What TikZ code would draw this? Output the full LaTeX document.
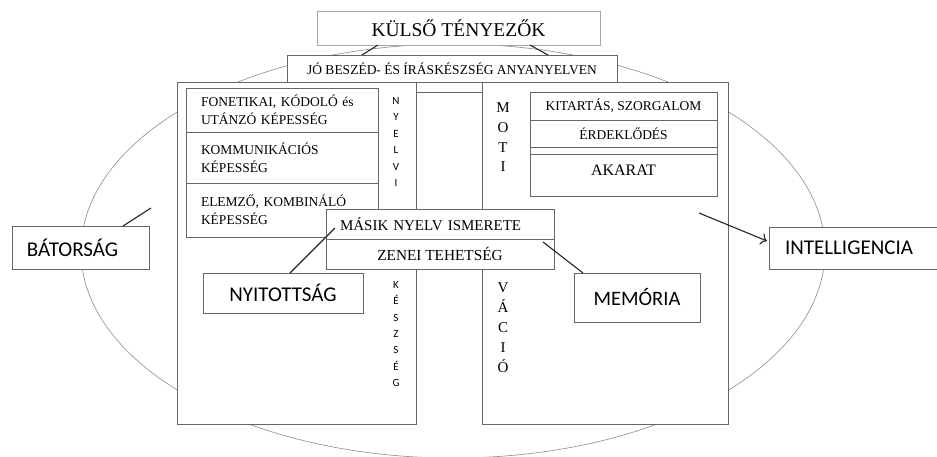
\documentclass[tikz,border=0pt]{standalone}
\usepackage{fontspec}
\setmainfont{Liberation Serif}
\newfontfamily\carl{Carlito}
\usetikzlibrary{calc,arrows.meta}
\begin{document}
\begin{tikzpicture}[x=1pt,y=-1pt,
  box/.style={draw=black!60, fill=white, line width=0.8pt, inner sep=0pt, outer sep=0pt, anchor=center},
  lbox/.style={box, align=left, text width=162pt, inner xsep=15pt},
  conn/.style={draw=black!85, line width=1.1pt},
  vtext/.style={align=center, inner sep=0pt},
  fs/.style={font=\fontsize{#1}{#1}\selectfont},
]
\useasboundingbox (0,0) rectangle (937,456);
\fill[white] (0,0) rectangle (937,456);
% ellipse
\draw[black!45, line width=0.6pt] (453,251) ellipse [x radius=372, y radius=207];
% big boxes
\node[box, minimum width=239pt, minimum height=342pt] (lbig) at (296.5,253) {};
\node[box, minimum width=246pt, minimum height=342pt] (rbig) at (605,253) {};
\draw[black!60, line width=0.8pt] (lbig.east |- 0,92) -- (rbig.west |- 0,92);
% top
\node[box, draw=black!35, minimum width=283pt, minimum height=34pt, fs=19.5] (kulso) at (458.5,28) {KÜLSŐ TÉNYEZŐK};
\node[box, minimum width=330pt, minimum height=27pt, fs=13.5] (jo) at (452,68.5) {JÓ BESZÉD- ÉS ÍRÁSKÉSZSÉG ANYANYELVEN};
\draw[conn] (378,0 |- kulso.south) -- (362,0 |- jo.north);
\draw[conn] (530,0 |- kulso.south) -- (548,0 |- jo.north);
% left inner
\node[lbox, minimum height=44pt, font=\fontsize{13.5}{18}\selectfont] (fon) at (282,110) {FONETIKAI, KÓDOLÓ és\\UTÁNZÓ KÉPESSÉG};
\node[lbox, minimum height=51pt, font=\fontsize{13.5}{18}\selectfont] (kom) at (282,157.5) {KOMMUNIKÁCIÓS\\KÉPESSÉG};
\node[lbox, minimum height=54pt, font=\fontsize{13.5}{18}\selectfont] (elem) at (282,210) {ELEMZŐ, KOMBINÁLÓ\\KÉPESSÉG};
\node[vtext, font=\carl\fontsize{11}{16.4}\selectfont] (nyelvi) at (396,142) {N\\Y\\E\\L\\V\\I};
\node[vtext, font=\carl\fontsize{11}{16.3}\selectfont] (keszseg) at (396,334) {K\\É\\S\\Z\\S\\É\\G};
% right inner
\node[box, minimum width=187pt, minimum height=28pt, fs=13.5] (kit) at (623.5,106) {KITARTÁS, SZORGALOM};
\node[box, minimum width=187pt, minimum height=27pt, fs=13.5] (erd) at (623.5,133.5) {ÉRDEKLŐDÉS};
\node[box, minimum width=187pt, minimum height=7pt] (strip) at (623.5,150.5) {};
\node[box, minimum width=187pt, minimum height=42pt] (akar) at (623.5,175) {};
\node[fs=16, inner sep=0pt] (akartxt) at (623.5,170) {AKARAT};
\node[vtext, font=\fontsize{15}{19.7}\selectfont] (moti) at (503,137.5) {M\\O\\T\\I};
\node[vtext, font=\fontsize{15}{20}\selectfont] (vacio) at (503,327.5) {V\\Á\\C\\I\\Ó};
% middle
\node[box, minimum width=228pt, minimum height=30pt, fs=15, align=left, text width=200pt, inner xsep=14pt] (masik) at (440,224) {MÁSIK NYELV ISMERETE};
\node[box, minimum width=228pt, minimum height=30pt, fs=15.3] (zenei) at (440,254) {ZENEI TEHETSÉG};
% side boxes
\node[box, minimum width=160pt, minimum height=40pt, font=\carl\fontsize{21}{21}\selectfont] (nyit) at (283,293) {NYITOTTSÁG};
\node[box, minimum width=126pt, minimum height=49pt, font=\carl\fontsize{20.5}{20.5}\selectfont] (memo) at (637,297.5) {MEMÓRIA};
\node[box, minimum width=137pt, minimum height=43pt, font=\carl\fontsize{21}{21}\selectfont, text width=117pt, align=left, inner xsep=10pt] (bator) at (80.5,247.5) {\hspace*{5pt}BÁTORSÁG};
\node[box, minimum width=170pt, minimum height=42pt, font=\carl\fontsize{21}{21}\selectfont, text width=150pt, align=left, inner xsep=10pt] (intel) at (854,248) {\hspace*{6pt}INTELLIGENCIA};
% connectors
\coordinate (bfree) at (151,208);
\draw[conn] (123,0 |- bator.north) -- (bfree);
\draw[conn] ($(masik.west)+(9,4)$) -- (290,0 |- nyit.north);
\draw[conn] ($(zenei.east)+(-11,-12)$) -- (583,0 |- memo.north);
\coordinate (ifree) at (699,213);
\draw[conn, -{To[length=6pt,width=12pt]}] (ifree) -- (767,241);
\end{tikzpicture}
\end{document}
